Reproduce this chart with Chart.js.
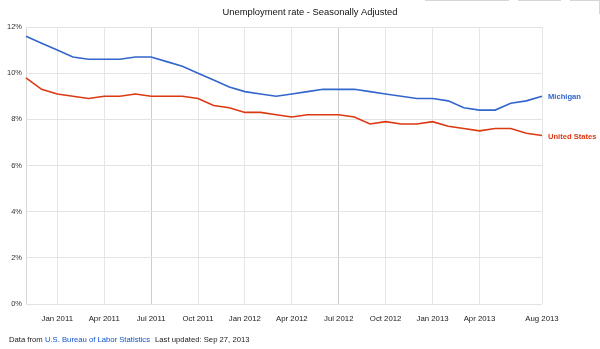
<!DOCTYPE html>
<html>
<head>
<meta charset="utf-8">
<script src="https://cdn.jsdelivr.net/npm/chart.js@4"></script>
<style>
    body { margin: 0; background: #fff; }
    #wrap { position: relative; width: 600px; height: 349px; overflow: hidden; }
    #footer {
        position: absolute; left: 9px; top: 335px;
        font: 7.7px "Liberation Sans", Arial, sans-serif; color: #222; white-space: nowrap;
    }
    #footer a { color: #1155cc; text-decoration: none; }
    #footer .upd { margin-left: 5px; }
    .btn { position: absolute; top: 0; height: 1px; background: #d6d6d6; }
</style>
</head>
<body>
<div id="wrap">
    <canvas id="unemploymentChart" width="600" height="349"></canvas>
    <!-- 顶部被截掉的按钮边框 -->
    <div class="btn" style="left:425px;width:84px"></div>
    <div class="btn" style="left:518px;width:43px"></div>
    <div class="btn" style="left:570px;width:30px"></div>
    <div class="btn" style="left:599px;width:1px;height:14px"></div>
    <div id="footer">Data from <a href="#">U.S. Bureau of Labor Statistics</a><span class="upd">Last updated: Sep 27, 2013</span></div>
</div>
<script>
// 月份 (Nov 2010 - Aug 2013)
const months = [
    'Nov 2010', 'Dec 2010',
    'Jan 2011', 'Feb 2011', 'Mar 2011', 'Apr 2011', 'May 2011', 'Jun 2011',
    'Jul 2011', 'Aug 2011', 'Sep 2011', 'Oct 2011', 'Nov 2011', 'Dec 2011',
    'Jan 2012', 'Feb 2012', 'Mar 2012', 'Apr 2012', 'May 2012', 'Jun 2012',
    'Jul 2012', 'Aug 2012', 'Sep 2012', 'Oct 2012', 'Nov 2012', 'Dec 2012',
    'Jan 2013', 'Feb 2013', 'Mar 2013', 'Apr 2013', 'May 2013', 'Jun 2013',
    'Jul 2013', 'Aug 2013'
];

// 显示的刻度标签
const tickLabels = [
    'Jan 2011', 'Apr 2011', 'Jul 2011', 'Oct 2011', 'Jan 2012', 'Apr 2012',
    'Jul 2012', 'Oct 2012', 'Jan 2013', 'Apr 2013', 'Aug 2013'
];

const michigan = [
    11.6, 11.3, 11.0, 10.7, 10.6, 10.6, 10.6, 10.7, 10.7, 10.5, 10.3, 10.0,
    9.7, 9.4, 9.2, 9.1, 9.0, 9.1, 9.2, 9.3, 9.3, 9.3, 9.2, 9.1,
    9.0, 8.9, 8.9, 8.8, 8.5, 8.4, 8.4, 8.7, 8.8, 9.0
];

const unitedStates = [
    9.8, 9.3, 9.1, 9.0, 8.9, 9.0, 9.0, 9.1, 9.0, 9.0, 9.0, 8.9,
    8.6, 8.5, 8.3, 8.3, 8.2, 8.1, 8.2, 8.2, 8.2, 8.1, 7.8, 7.9,
    7.8, 7.8, 7.9, 7.7, 7.6, 7.5, 7.6, 7.6, 7.4, 7.3
];

const FONT = '"Liberation Sans", Arial, sans-serif';

// 标题和右侧系列名称
const labelPlugin = {
    id: 'labelPlugin',
    afterDraw(chart) {
        const ctx = chart.ctx;
        ctx.save();
        ctx.font = '9.4px ' + FONT;
        ctx.fillStyle = '#111';
        ctx.textAlign = 'center';
        ctx.textBaseline = 'middle';
        ctx.fillText('Unemployment rate - Seasonally Adjusted', 310, 12);

        ctx.font = 'bold 7.6px ' + FONT;
        ctx.textAlign = 'left';
        chart.data.datasets.forEach((ds, i) => {
            const pts = chart.getDatasetMeta(i).data;
            const last = pts[pts.length - 1];
            ctx.fillStyle = ds.borderColor;
            ctx.fillText(ds.label, chart.chartArea.right + 6, last.y + 1);
        });
        ctx.restore();
    }
};

const ctx = document.getElementById('unemploymentChart').getContext('2d');
const chart = new Chart(ctx, {
    type: 'line',
    data: {
        labels: months,
        datasets: [{
            label: 'Michigan',
            data: michigan,
            borderColor: '#3366cc',
            borderWidth: 1.6,
            pointRadius: 0,
            tension: 0
        }, {
            label: 'United States',
            data: unitedStates,
            borderColor: '#dc3912',
            borderWidth: 1.6,
            pointRadius: 0,
            tension: 0
        }]
    },
    options: {
        responsive: false,
        animation: false,
        layout: { padding: { top: 27, right: 58, left: 0, bottom: 0 } },
        plugins: {
            legend: { display: false },
            title: { display: false },
            tooltip: { enabled: false }
        },
        scales: {
            x: {
                type: 'category',
                offset: false,
                afterFit(scale) { scale.height = 45; },
                border: { display: false },
                grid: {
                    drawTicks: false,
                    color(c) {
                        if (!c.tick) return 'rgba(0,0,0,0)';
                        const label = months[c.index];
                        if (c.index === 0) return '#d6d6d6';
                        if (!tickLabels.includes(label)) return 'rgba(0,0,0,0)';
                        return label.startsWith('Jul') ? '#cdcdcd' : '#e6e6e6';
                    }
                },
                ticks: {
                    autoSkip: false,
                    maxRotation: 0,
                    padding: 10,
                    color: '#222',
                    font: { family: FONT, size: 7.8 },
                    callback(val, index) {
                        const label = months[index];
                        return tickLabels.includes(label) ? label : '';
                    }
                }
            },
            y: {
                min: 0,
                max: 12,
                afterFit(scale) { scale.width = 26; },
                border: { display: false },
                grid: { drawTicks: false, color: '#e3e3e3' },
                ticks: {
                    stepSize: 2,
                    padding: 4,
                    color: '#333',
                    font: { family: FONT, size: 7.5 },
                    callback: v => v + '%'
                }
            }
        }
    },
    plugins: [labelPlugin]
});
</script>
</body>
</html>
